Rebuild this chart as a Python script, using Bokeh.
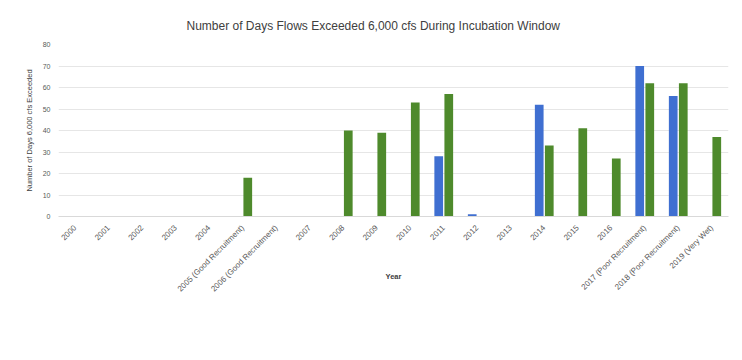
from bokeh.plotting import figure
from bokeh.models import FactorRange, Range1d, ColumnDataSource, Legend, LegendItem
from bokeh.transform import dodge
from bokeh.embed import file_html
from bokeh.resources import INLINE
import math

years = ["2000", "2001", "2002", "2003", "2004",
         "2005 (Good Recruitment)", "2006 (Good Recruitment)", "2007", "2008", "2009",
         "2010", "2011", "2012", "2013", "2014", "2015", "2016",
         "2017 (Poor Recruitment)", "2018 (Poor Recruitment)", "2019 (Very Wet)"]
brown = [0, 0, 0, 0, 0, 0, 0, 0, 0, 0, 0, 28, 1, 0, 52, 0, 0, 70, 56, 0]
rainbow = [0, 0, 0, 0, 0, 18, 0, 0, 40, 39, 53, 57, 0, 0, 33, 41, 27, 62, 62, 37]
brown_label = "Brown Trout:  Days >6,000 cfs Oct 15-May 15"
rainbow_label = "Rainbow Trout:  Days >6,000 cfs May 15-July 15"

FONT = "Liberation Sans"
src = ColumnDataSource(dict(year=years, brown=brown, rainbow=rainbow))

p = figure(frame_width=670, frame_height=172, x_range=FactorRange(*years), y_range=Range1d(0, 80),
           output_backend="svg", toolbar_location=None,
           min_border_left=58, min_border_right=14, min_border_top=44, min_border_bottom=0)
p.outline_line_color = None
p.background_fill_color = "white"
p.border_fill_color = "white"

p.title.text = "Number of Days Flows Exceeded 6,000 cfs During Incubation Window"
p.title.align = "left"
p.title.offset = 128
p.title.standoff = 24
p.title.text_font = FONT
p.title.text_font_size = "12px"
p.title.text_font_style = "normal"
p.title.text_color = "#404040"

rb = p.vbar(x=dodge("year", -0.15, range=p.x_range), top="brown", width=0.26, source=src,
            fill_color="#3F6FD1", line_color=None)
rr = p.vbar(x=dodge("year", 0.15, range=p.x_range), top="rainbow", width=0.26, source=src,
            fill_color="#4E8A2C", line_color=None)

p.xgrid.grid_line_color = None
p.ygrid.grid_line_color = "#e6e6e6"
p.yaxis.ticker = list(range(0, 81, 10))
p.yaxis.axis_line_color = None
p.yaxis.major_tick_line_color = None
p.yaxis.minor_tick_line_color = None
p.yaxis.major_label_text_font = FONT
p.yaxis.major_label_text_font_size = "7px"
p.yaxis.major_label_text_color = "#595959"
p.yaxis.major_label_standoff = 2
p.yaxis.axis_label = "Number of Days 6,000 cfs Exceeded"
p.yaxis.axis_label_text_font = FONT
p.yaxis.axis_label_text_font_size = "7.5px"
p.yaxis.axis_label_text_font_style = "normal"
p.yaxis.axis_label_text_color = "#404040"
p.yaxis.axis_label_standoff = 6

p.xaxis.axis_line_color = "#d9d9d9"
p.xaxis.major_tick_line_color = None
p.xaxis.minor_tick_line_color = None
p.xaxis.major_label_orientation = math.pi / 4
p.xaxis.major_label_text_font = FONT
p.xaxis.major_label_text_font_size = "8px"
p.xaxis.major_label_text_color = "#595959"
p.xaxis.major_label_standoff = 4
p.xaxis.axis_label = "Year"
p.xaxis.axis_label_text_font = FONT
p.xaxis.axis_label_text_font_size = "7.5px"
p.xaxis.axis_label_text_font_style = "bold"
p.xaxis.axis_label_text_color = "#404040"
p.xaxis.axis_label_standoff = -28

legend = Legend(items=[LegendItem(label=brown_label, renderers=[rb]),
                       LegendItem(label=rainbow_label, renderers=[rr])],
                orientation="horizontal", location="top_center",
                glyph_width=6, glyph_height=6, label_standoff=4, spacing=0, label_width=277,
                padding=0, margin=8, border_line_color=None, background_fill_alpha=0,
                label_text_font=FONT, label_text_font_size="10.5px", label_text_color="#595959",
                label_height=10)
p.add_layout(legend, "below")

open("out.html", "w").write(file_html(p, INLINE))
